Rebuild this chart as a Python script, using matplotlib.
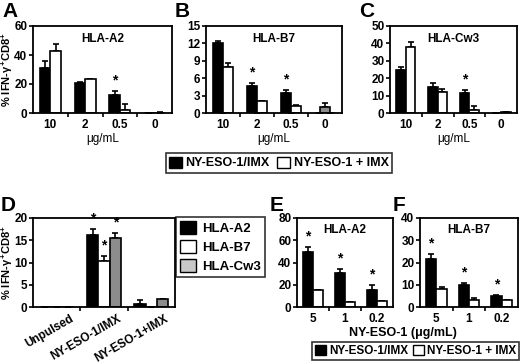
import numpy as np
import matplotlib
matplotlib.use("Agg")
import matplotlib.pyplot as plt
import matplotlib.transforms as mtrans
from matplotlib.patches import Patch

plt.rcParams['font.family'] = ['Liberation Sans', 'DejaVu Sans']
plt.rcParams['font.weight'] = 'bold'
plt.rcParams['mathtext.fontset'] = 'custom'
plt.rcParams['mathtext.rm'] = 'Liberation Sans:bold'
plt.rcParams['mathtext.it'] = 'Liberation Sans:bold'
plt.rcParams['mathtext.bf'] = 'Liberation Sans:bold'

# top row: peptide concentration
conc = ['10', '2', '0.5', '0']
a_imx = [31, 20.5, 12.5, 0]
a_imx_err = [5, 1, 2.8, 0]
a_plus = [42.5, 23.3, 2.2, 0.3]
a_plus_err = [5, 0.3, 3.8, 0.5]
a_stars = [2]

b_imx = [12.0, 4.6, 3.4, 0]
b_imx_err = [0.4, 0.5, 0.5, 0]
b_plus = [7.9, 2.0, 1.2, 0]
b_plus_err = [0.7, 0.1, 0.2, 0]
b_ctrl = [0, 0, 0, 1.0]
b_ctrl_err = [0, 0, 0, 0.8]
b_stars = [1, 2]

c_imx = [24.8, 15, 11.3, 0]
c_imx_err = [1.5, 2.2, 1.9, 0]
c_plus = [38.2, 11.8, 1.9, 0.3]
c_plus_err = [2.8, 1.9, 1.9, 0]
c_stars = [2]

# panel D
d_groups = ['Unpulsed', 'NY-ESO-1/IMX', 'NY-ESO-1+IMX']
d_a2 = [0, 16.2, 0.7]
d_a2_err = [0, 1.3, 0.8]
d_b7 = [0, 10.3, 0]
d_b7_err = [0, 1.2, 0]
d_cw3 = [0, 15.5, 1.7]
d_cw3_err = [0, 1.1, 0.1]

# panels E, F
dose = ['5', '1', '0.2']
e_imx = [49, 31, 15.5]
e_imx_err = [5, 3, 4]
e_plus = [15, 4.5, 5]
e_plus_err = [0, 0, 0]
f_imx = [21.6, 9.8, 5]
f_imx_err = [2.2, 1.1, 0.3]
f_plus = [8, 3.3, 3]
f_plus_err = [0.9, 0.6, 0.2]

W, H = 520, 364
fig = plt.figure(figsize=(5.2, 3.64), dpi=100)


def ax_at(x0, y0, x1, y1):
    return fig.add_axes([x0 / W, 1 - y1 / H, (x1 - x0) / W, (y1 - y0) / H])


def style(ax, n, ymax, yticks):
    ax.set_xlim(-0.5, n - 0.5)
    ax.set_ylim(0, ymax)
    ax.set_yticks(yticks)
    ax.set_xticks(range(n))
    ax.set_xticks(np.arange(n - 1) + 0.5, minor=True)
    ax.tick_params(axis='x', which='major', length=0, labelsize=8.5, pad=4)
    ax.tick_params(axis='x', which='minor', length=3, width=1.2)
    ax.tick_params(axis='y', length=3, width=1.2, labelsize=8.5, pad=1)
    for s in ax.spines.values():
        s.set_linewidth(1.3)


def bars(ax, x, vals, errs, color, w):
    ax.bar(x, vals, w, color=color, edgecolor='black', linewidth=1.2, zorder=2)
    ax.errorbar(x, vals, yerr=[np.zeros(len(vals)), errs], fmt='none',
                ecolor='black', elinewidth=1.2, capsize=2, capthick=1.2, zorder=1)


def stars(ax, xs, tops, ymax):
    for x, t in zip(xs, tops):
        ax.text(x, t + ymax * 0.04, '*', ha='center', va='bottom', fontsize=10)


ylab = r'% IFN-$\gamma^{+}$CD8$^{+}$'

top = [(33, 172, a_imx, a_imx_err, a_plus, a_plus_err, a_stars, 60, [0, 20, 40, 60], 'HLA-A2', 'A'),
       (206, 342, b_imx, b_imx_err, b_plus, b_plus_err, b_stars, 15, [0, 3, 6, 9, 12, 15], 'HLA-B7', 'B'),
       (390, 517, c_imx, c_imx_err, c_plus, c_plus_err, c_stars, 50, [0, 10, 20, 30, 40, 50], 'HLA-Cw3', 'C')]
for x0, x1, v1, e1, v2, e2, st, ymax, yt, title, letter in top:
    ax = ax_at(x0, 26, x1, 113)
    x = np.arange(len(conc))
    bars(ax, x - 0.15, v1, e1, 'black', 0.3)
    bars(ax, x + 0.15, v2, e2, 'white', 0.3)
    if letter == 'B':
        bars(ax, x, b_ctrl, b_ctrl_err, '#8c8c8c', 0.3)
    stars(ax, [x[i] - 0.15 for i in st], [v1[i] + e1[i] for i in st], ymax)
    style(ax, len(conc), ymax, yt)
    ax.set_xticklabels(conc)
    ax.set_xlabel('μg/mL', fontsize=8.5, labelpad=2)
    ax.text(0.5, 0.92, title, transform=ax.transAxes, ha='center', va='top', fontsize=8.5)
    fig.text((x0 - 31) / W, 1 - 2 / H, letter, fontsize=15, va='top', ha='left')
    if letter == 'A':
        ax.set_ylabel(ylab, fontsize=8, fontweight='bold')
        ax.yaxis.set_label_coords((15 - x0) / (x1 - x0), 0.5)

h_leg = [Patch(facecolor='black', edgecolor='black'), Patch(facecolor='white', edgecolor='black')]
fig.legend(h_leg, ['NY-ESO-1/IMX', 'NY-ESO-1 + IMX'], ncol=2, loc='center',
           bbox_to_anchor=(279 / W, 1 - 163 / H), fontsize=9, frameon=True, fancybox=False,
           edgecolor='black', handlelength=1.0, handleheight=1.0, handletextpad=0.3,
           columnspacing=0.6, borderpad=0.3, borderaxespad=0).get_frame().set_linewidth(1.2)

# panel D
ax = ax_at(33, 218, 175, 307)
x = np.arange(len(d_groups))
w = 0.24
bars(ax, x - w, d_a2, d_a2_err, 'black', w)
bars(ax, x, d_b7, d_b7_err, 'white', w)
bars(ax, x + w, d_cw3, d_cw3_err, '#8c8c8c', w)
stars(ax, [1 - w, 1, 1 + w], [d_a2[1] + d_a2_err[1], d_b7[1] + d_b7_err[1], d_cw3[1] + d_cw3_err[1]], 20)
style(ax, 3, 20, [0, 5, 10, 15, 20])
ax.set_xticklabels(d_groups, rotation=30, ha='right', rotation_mode='anchor')
off = mtrans.ScaledTranslation(0.13, 0, fig.dpi_scale_trans)
for lab in ax.get_xticklabels():
    lab.set_transform(lab.get_transform() + off)
ax.set_ylabel(ylab, fontsize=8, fontweight='bold')
ax.yaxis.set_label_coords((15 - 33) / (175 - 33), 0.5)
fig.text(1 / W, 1 - 196 / H, 'D', fontsize=15, va='top', ha='left')
leg_d = [Patch(facecolor='black', edgecolor='black'), Patch(facecolor='white', edgecolor='black'),
         Patch(facecolor='#c8c8c8', edgecolor='black')]
lg = fig.legend(leg_d, ['HLA-A2', 'HLA-B7', 'HLA-Cw3'], loc='upper left',
                bbox_to_anchor=(176 / W, 1 - 217 / H), fontsize=9.5, frameon=True, fancybox=False,
                edgecolor='black', handlelength=1.2, handleheight=1.2, handletextpad=0.5,
                labelspacing=0.35, borderpad=0.3, borderaxespad=0)
lg.get_frame().set_linewidth(1.2)

# panels E, F
for x0, x1, v1, e1, v2, e2, ymax, yt, title, letter in [
        (297, 393, e_imx, e_imx_err, e_plus, e_plus_err, 80, [0, 20, 40, 60, 80], 'HLA-A2', 'E'),
        (420, 518, f_imx, f_imx_err, f_plus, f_plus_err, 40, [0, 10, 20, 30, 40], 'HLA-B7', 'F')]:
    ax = ax_at(x0, 218, x1, 307)
    x = np.arange(len(dose))
    bars(ax, x - 0.16, v1, e1, 'black', 0.32)
    bars(ax, x + 0.16, v2, e2, 'white', 0.32)
    stars(ax, x - 0.16, np.array(v1) + np.array(e1), ymax)
    style(ax, 3, ymax, yt)
    ax.set_xticklabels(dose)
    ax.text(0.5, 0.93, title, transform=ax.transAxes, ha='center', va='top', fontsize=8.5)
    fig.text((x0 - 27) / W, 1 - 196 / H, letter, fontsize=15, va='top', ha='left')

fig.text(403 / W, 1 - 333 / H, 'NY-ESO-1 (μg/mL)', ha='center', va='center', fontsize=9)
fig.legend(h_leg, ['NY-ESO-1/IMX', 'NY-ESO-1 + IMX'], ncol=2, loc='center right',
           bbox_to_anchor=(519 / W, 1 - 351 / H), fontsize=8.5, frameon=True, fancybox=False,
           edgecolor='black', handlelength=1.0, handleheight=1.0, handletextpad=0.2,
           columnspacing=0.4, borderpad=0.25, borderaxespad=0).get_frame().set_linewidth(1.2)

fig.savefig('out.png', dpi=100)
